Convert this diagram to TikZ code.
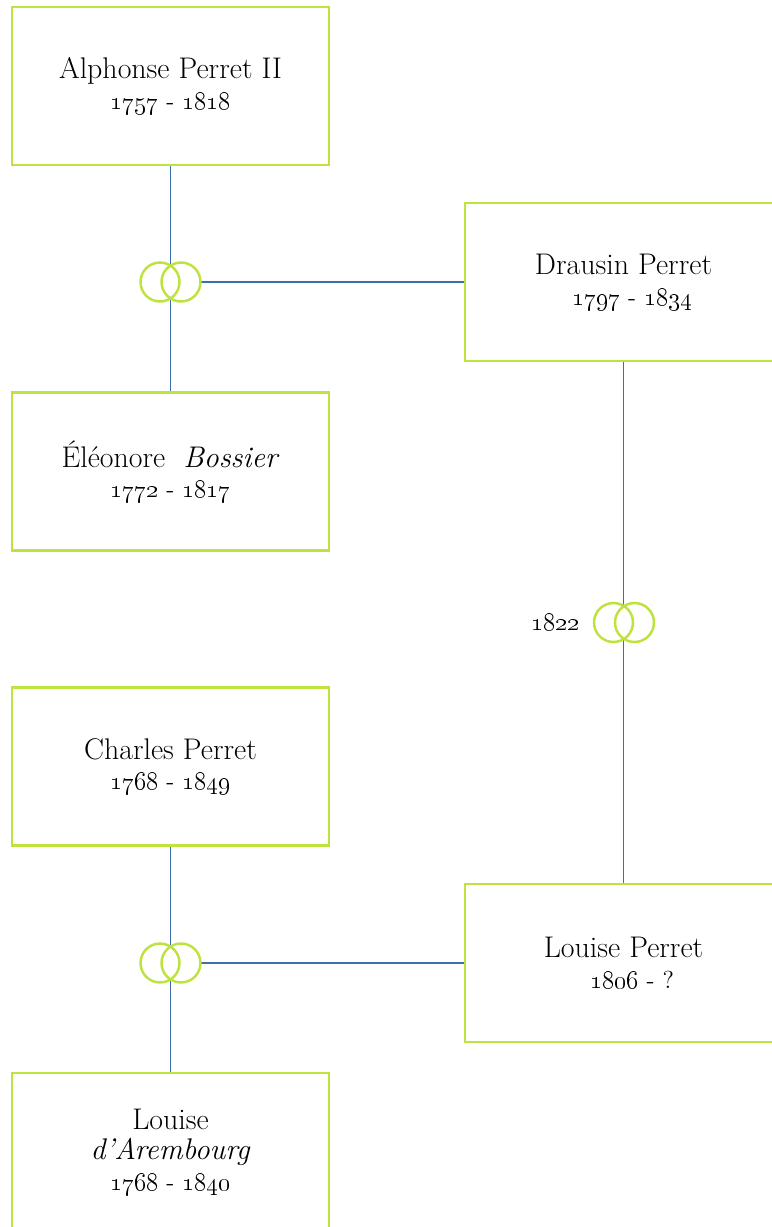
\documentclass[tikz,border=0pt]{standalone}
\usetikzlibrary{positioning}
\definecolor{lime}{RGB}{190,226,62}
\definecolor{linkblue}{RGB}{62,110,172}
\newcommand\yr[1]{\oldstylenums{#1}}
\newcommand\dates[1]{{\fontsize{14}{17}\selectfont #1}}
\tikzset{
  person/.style={draw=lime, line width=1.4pt, minimum width=6.34cm, minimum height=3.16cm,
    align=center, inner sep=0pt, font=\fontsize{17}{17.5}\selectfont},
  link/.style={draw=linkblue, line width=1pt},
  ring/.style={draw=lime, line width=1.4pt},
}
\begin{document}
\begin{tikzpicture}[x=0.02cm, y=-0.02cm]
  \useasboundingbox (0,0) rectangle (771,1227);

  \node[person] (alphonse) at (170.5,86) {Alphonse Perret II\\ \dates{\yr{1757} - \yr{1818}}};
  \node[person] (eleonore) at (170.5,471.5) {\'El\'eonore\ \ \textit{Bossier}\\ \dates{\yr{1772} - \yr{1817}}};
  \node[person] (drausin) at (623.5,282) {Drausin Perret\\ \hspace*{0.35cm}\dates{\yr{1797} - \yr{1834}}};
  \node[person] (charles) at (170.5,766.5) {Charles Perret\\ \dates{\yr{1768} - \yr{1849}}};
  \node[person] (louise) at (623.5,963) {Louise Perret\\ \hspace*{0.35cm}\dates{\yr{1806} - ?}};
  \node[person] (arembourg) at (170.5,1152) {Louise\\ \textit{d'Arembourg}\\ \dates{\yr{1768} - \yr{1840}}};

  % weddings
  \coordinate (wedA) at (170.5,282);
  \coordinate (wedB) at (624,622.5);
  \coordinate (wedC) at (170.5,963);
  \node[left=0.88cm of wedB, inner sep=0pt] (wedyear) {\dates{\yr{1822}}};

  \draw[link] (alphonse) -- (eleonore);
  \draw[link] (wedA) -- (drausin);
  \draw[link] (drausin) -- (louise);
  \draw[link] (charles) -- (arembourg);
  \draw[link] (wedC) -- (louise);

  \foreach \w in {wedA,wedB,wedC}{
    \fill[white] (\w) ++(-10.5,0) circle[radius=0.39cm] (\w) ++(10.5,0) circle[radius=0.39cm];
    \draw[ring] (\w) ++(-10.5,0) circle[radius=0.39cm] (\w) ++(10.5,0) circle[radius=0.39cm];
  }
\end{tikzpicture}
\end{document}
